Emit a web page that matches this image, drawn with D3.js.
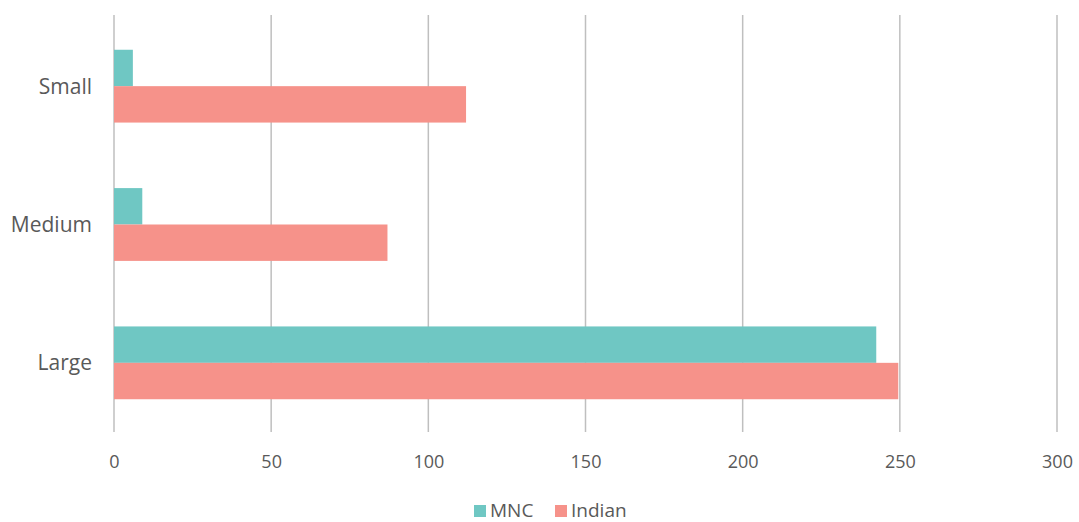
<!DOCTYPE html>
<html>
<head>
<meta charset="utf-8">
<script src="https://cdn.jsdelivr.net/npm/d3@7"></script>
<style>
  html, body { margin: 0; padding: 0; background: #fff; }
  svg text { font-family: "Open Sans", Lato, sans-serif; fill: #595959; }
</style>
</head>
<body>
<svg id="chart" width="1079" height="522"></svg>
<script>
// Company size categories, top to bottom
const categories = ["Small", "Medium", "Large"];
// Series
const seriesNames = ["MNC", "Indian"];
const mncValues = [6, 9, 242.5];
const indianValues = [112, 87, 249.5];
const seriesColors = ["#6fc7c3", "#f6928a"];
// Value axis ticks
const xTicks = [0, 50, 100, 150, 200, 250, 300];

const svg = d3.select("#chart");
const margin = { left: 114, right: 22, top: 17, bottom: 90 };
const W = 1079, H = 522;

const x = d3.scaleLinear().domain([0, 300]).range([margin.left, 1057]);
const y = d3.scaleBand().domain(categories)
  .range([margin.top, H - margin.bottom])
  .paddingInner(0.4737).paddingOuter(0.2368);
const ySub = d3.scaleBand().domain(seriesNames).range([0, y.bandwidth()]);

// Vertical gridlines extending down as tick marks
svg.append("g").selectAll("line").data(xTicks).join("line")
  .attr("x1", d => x(d)).attr("x2", d => x(d))
  .attr("y1", margin.top - 2).attr("y2", 432)
  .attr("stroke", "#bfbfbf").attr("stroke-width", 1.5);

// Bars
const rows = categories.map((c, i) => ({ cat: c, vals: [mncValues[i], indianValues[i]] }));
const g = svg.append("g").selectAll("g").data(rows).join("g")
  .attr("transform", d => `translate(0,${y(d.cat)})`);
g.selectAll("rect").data(d => d.vals.map((v, j) => ({ s: seriesNames[j], v, j })))
  .join("rect")
  .attr("x", x(0))
  .attr("y", d => ySub(d.s))
  .attr("width", d => x(d.v) - x(0))
  .attr("height", ySub.bandwidth())
  .attr("fill", d => seriesColors[d.j]);

// Value axis labels
const xAxis = d3.axisBottom(x).tickValues(xTicks).tickSize(0).tickPadding(0).tickFormat(d3.format("d"));
const xa = svg.append("g").attr("transform", "translate(0,468)").call(xAxis);
xa.select(".domain").remove();
xa.selectAll("text").attr("font-size", 18).attr("dy", 0).style("font-family", "'Open Sans', sans-serif");

// Category axis labels
const yAxis = d3.axisLeft(y).tickSize(0).tickPadding(22);
const ya = svg.append("g").attr("transform", `translate(${x(0)},0)`).call(yAxis);
ya.select(".domain").remove();
ya.selectAll("text").attr("font-size", 21).attr("dy", "0.35em").style("font-family", "'Open Sans', sans-serif");

// Legend
const legend = svg.append("g").attr("transform", "translate(0,510)");
const items = [{ name: "MNC", x: 474 }, { name: "Indian", x: 555 }];
items.forEach((it, i) => {
  legend.append("rect").attr("x", it.x).attr("y", -5).attr("width", 12).attr("height", 12)
    .attr("fill", seriesColors[i]);
  legend.append("text").attr("x", it.x + 16).attr("y", 0).attr("dy", "0.35em")
    .attr("font-size", 19).text(it.name);
});
</script>
</body>
</html>
